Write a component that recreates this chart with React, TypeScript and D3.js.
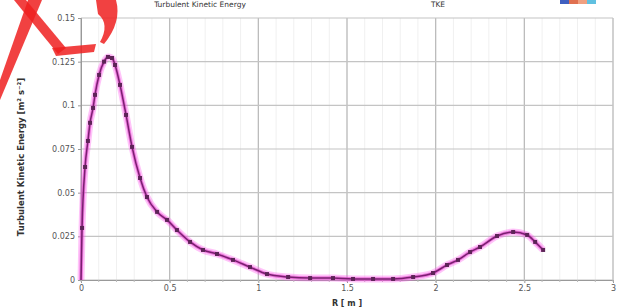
import React, { useEffect, useRef } from 'react';
import * as d3 from 'd3';

// radial position [m]
const radius = [
  0.0, 0.006, 0.023, 0.039, 0.051, 0.068, 0.079, 0.102, 0.13, 0.152, 0.175, 0.192, 0.22,
  0.254, 0.288, 0.333, 0.372, 0.429, 0.485, 0.541, 0.615, 0.688, 0.767, 0.857, 0.953,
  1.049, 1.168, 1.292, 1.421, 1.534, 1.647, 1.76, 1.873, 1.985, 2.064, 2.126, 2.194,
  2.25, 2.346, 2.437, 2.516, 2.561, 2.606,
];
// turbulent kinetic energy
const tke = [
  0.0, 0.0298, 0.0647, 0.0796, 0.09, 0.0985, 0.106, 0.1174, 0.125, 0.1277, 0.1271, 0.1231,
  0.1117, 0.0945, 0.0762, 0.0584, 0.0475, 0.039, 0.0344, 0.0286, 0.0218, 0.0172, 0.0149,
  0.0115, 0.0074, 0.0034, 0.0017, 0.0011, 0.0011, 0.0006, 0.0006, 0.0006, 0.0017, 0.004,
  0.0086, 0.0115, 0.016, 0.0189, 0.0252, 0.0275, 0.0258, 0.0218, 0.0172,
];
const xTicks = [0, 0.5, 1, 1.5, 2, 2.5, 3];
const yTicks = [0, 0.025, 0.05, 0.075, 0.1, 0.125, 0.15];

const App = () => {
  const svgRef = useRef<SVGSVGElement>(null);

  useEffect(() => {
    const width = 644;
    const height = 308;
    const m = { left: 81, right: 31, top: 18, bottom: 28 };

    const svg = d3.select(svgRef.current).attr('width', width).attr('height', height);
    svg.selectAll('*').remove();

    const x = d3.scaleLinear().domain([0, 3]).range([m.left, width - m.right]);
    const y = d3.scaleLinear().domain([0, 0.15]).range([height - m.bottom, m.top]);

    // minor grid
    const minorX = d3.range(0, 3.001, 0.1);
    svg.append('g')
      .selectAll('line')
      .data(minorX)
      .enter().append('line')
      .attr('x1', d => x(d)).attr('x2', d => x(d))
      .attr('y1', y(0)).attr('y2', y(0.15))
      .attr('stroke', '#f0f0f0').attr('stroke-width', 1);

    // major grid
    svg.append('g')
      .selectAll('line')
      .data(xTicks)
      .enter().append('line')
      .attr('x1', d => x(d)).attr('x2', d => x(d))
      .attr('y1', y(0)).attr('y2', y(0.15))
      .attr('stroke', '#b8b8b8').attr('stroke-width', 1.2);
    svg.append('g')
      .selectAll('line')
      .data(yTicks)
      .enter().append('line')
      .attr('x1', x(0)).attr('x2', x(3))
      .attr('y1', d => y(d)).attr('y2', d => y(d))
      .attr('stroke', '#c4c4c4').attr('stroke-width', 1.2);

    // axes
    const xAxis = svg.append('g')
      .attr('transform', `translate(0,${y(0)})`)
      .call(d3.axisBottom(x).tickValues(xTicks).tickSize(3).tickFormat(d => String(d)));
    const yAxis = svg.append('g')
      .attr('transform', `translate(${x(0)},0)`)
      .call(d3.axisLeft(y).tickValues(yTicks).tickSize(3).tickFormat(d => d === 0 ? '0' : String(d)));
    [xAxis, yAxis].forEach(a => {
      a.select('.domain').attr('stroke', '#999');
      a.selectAll('.tick line').attr('stroke', '#999');
      a.selectAll('text').attr('fill', '#555').attr('font-size', 8).attr('font-family', 'DejaVu Sans');
    });
    xAxis.selectAll('text').attr('dy', '0.6em');

    // minor x ticks
    svg.append('g')
      .selectAll('line')
      .data(minorX)
      .enter().append('line')
      .attr('x1', d => x(d)).attr('x2', d => x(d))
      .attr('y1', y(0)).attr('y2', y(0) + 2)
      .attr('stroke', '#bbb');

    const pts = radius.map((r, i) => [r, tke[i]] as [number, number]);
    const line = d3.line<[number, number]>().x(d => x(d[0])).y(d => y(d[1])).curve(d3.curveMonotoneX);

    // glow
    svg.append('path').datum(pts)
      .attr('d', line).attr('fill', 'none')
      .attr('stroke', '#ff55ee').attr('stroke-width', 7).attr('stroke-opacity', 0.35)
      .attr('stroke-linejoin', 'round');
    svg.append('path').datum(pts)
      .attr('d', line).attr('fill', 'none')
      .attr('stroke', '#e040c8').attr('stroke-width', 3.5).attr('stroke-opacity', 0.6);
    svg.append('path').datum(pts)
      .attr('d', line).attr('fill', 'none')
      .attr('stroke', '#7a2070').attr('stroke-width', 1.5);

    svg.append('g')
      .selectAll('rect')
      .data(pts.slice(1))
      .enter().append('rect')
      .attr('x', d => x(d[0]) - 2).attr('y', d => y(d[1]) - 2)
      .attr('width', 4).attr('height', 4)
      .attr('fill', '#5e2458');

    // axis titles
    svg.append('text')
      .attr('transform', `translate(24,${(y(0) + y(0.15)) / 2 + 8}) rotate(-90)`)
      .attr('text-anchor', 'middle')
      .attr('font-family', 'DejaVu Sans').attr('font-size', 8.5).attr('font-weight', 'bold')
      .attr('fill', '#333')
      .text('Turbulent Kinetic Energy [m² s⁻²]');
    svg.append('text')
      .attr('x', 347).attr('y', 306)
      .attr('text-anchor', 'middle')
      .attr('font-family', 'DejaVu Sans').attr('font-size', 8).attr('font-weight', 'bold')
      .attr('fill', '#333')
      .text('R [ m ]');

    // title and legend at the top
    svg.append('text')
      .attr('x', 200).attr('y', 7)
      .attr('text-anchor', 'middle')
      .attr('font-family', 'DejaVu Sans').attr('font-size', 7.5)
      .attr('fill', '#333')
      .text('Turbulent Kinetic Energy');
    svg.append('text')
      .attr('x', 438).attr('y', 7)
      .attr('text-anchor', 'middle')
      .attr('font-family', 'DejaVu Sans').attr('font-size', 7.5)
      .attr('fill', '#333')
      .text('TKE');
    const legendColors = ['#4060c0', '#e07050', '#f0a080', '#60c0e0'];
    svg.append('g')
      .selectAll('rect')
      .data(legendColors)
      .enter().append('rect')
      .attr('x', (d, i) => 560 + i * 9).attr('y', 0)
      .attr('width', 9).attr('height', 4)
      .attr('fill', d => d);

    // red watermark in the corner
    const wm = svg.append('g').attr('fill', '#ee2020').attr('fill-opacity', 0.85);
    wm.append('path').attr('d', 'M0,100 L0,80 L28,0 L42,0 Z');
    wm.append('path').attr('d', 'M14,0 L26,0 L66,48 L58,54 Z');
    wm.append('path').attr('d', 'M52,48 L96,44 L94,52 L56,56 Z');
    wm.append('path').attr('d', 'M96,0 L116,0 Q122,22 104,44 L100,42 Q110,24 98,14 Z');
  }, []);

  return <svg ref={svgRef} style={{ position: 'absolute', left: 0, top: 0 }}></svg>;
};

export default App;
